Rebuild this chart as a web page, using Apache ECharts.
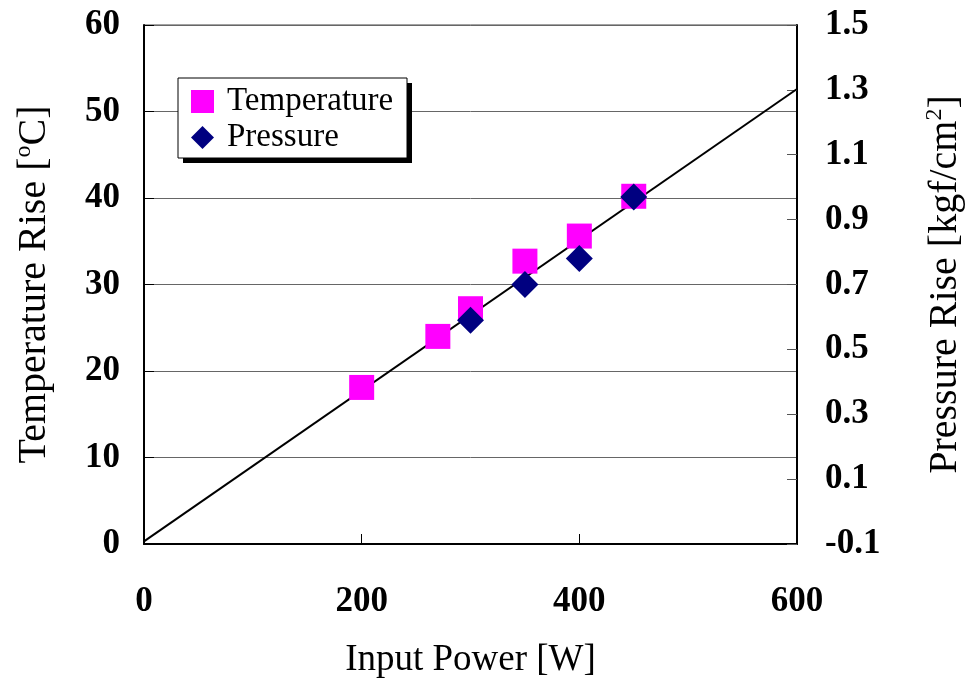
<!DOCTYPE html>
<html>
<head>
<meta charset="utf-8">
<script src="https://cdn.jsdelivr.net/npm/echarts@6/dist/echarts.min.js"></script>
<style>html,body{margin:0;padding:0;background:#fff;}#c{width:967px;height:687px;}</style>
</head>
<body>
<div id="c"></div>
<script>
// Data
const tempPower = [200, 270, 300, 350, 400, 450];
const tempRise = [18.1, 24.0, 27.2, 32.7, 35.6, 40.2];
const pressPower = [300, 350, 400, 450];
const pressRise = [0.59, 0.70, 0.78, 0.97];
const fitPower = [0, 600];
const fitTemp = [0.3, 52.6];
const xTicks = [0, 200, 400, 600];
const leftTicks = [0, 10, 20, 30, 40, 50, 60];
const rightTicks = [-0.1, 0.1, 0.3, 0.5, 0.7, 0.9, 1.1, 1.3, 1.5];

const FONT = '"Liberation Serif", "Times New Roman", serif';
const chart = echarts.init(document.getElementById('c'));
const zip = (a, b) => a.map((v, i) => [v, b[i]]);
const supRich = {
  s: { fontFamily: FONT, fontSize: 24, lineHeight: 24, color: '#000', verticalAlign: 'top' }
};

chart.setOption({
  animation: false,
  backgroundColor: '#fff',
  grid: { left: 144, right: 170, top: 25, bottom: 143, containLabel: false, outerBoundsMode: 'none',
    show: true, borderColor: '#444', borderWidth: 1, backgroundColor: 'transparent' },
  graphic: [
    { type: 'rect', z: 10, shape: { x: 183, y: 83, width: 229, height: 80 }, style: { fill: '#000' } },
    { type: 'rect', z: 11, shape: { x: 178, y: 78, width: 229, height: 80 }, style: { fill: '#fff', stroke: '#000', lineWidth: 1 } }
  ],
  legend: {
    orient: 'vertical', left: 191, top: 85, z: 20,
    padding: 0, itemGap: 3, itemWidth: 23, itemHeight: 23,
    textStyle: { fontFamily: FONT, fontSize: 33, color: '#000', padding: [0, 0, 0, 8] },
    data: ['Temperature', 'Pressure']
  },
  xAxis: {
    type: 'value', min: xTicks[0], max: xTicks[xTicks.length - 1], interval: 200,
    name: 'Input Power [W]', nameLocation: 'middle', nameGap: 98,
    nameTextStyle: { fontFamily: FONT, fontSize: 37, color: '#000' },
    axisLine: { lineStyle: { color: '#000', width: 2 } },
    axisTick: { inside: true, length: 10, lineStyle: { color: '#000' } },
    axisLabel: { margin: 40, fontFamily: FONT, fontSize: 35, fontWeight: 'bold', color: '#000' },
    splitLine: { show: false }
  },
  yAxis: [{
    type: 'value', min: leftTicks[0], max: leftTicks[leftTicks.length - 1], interval: 10,
    name: 'Temperature Rise [{s|o}C]', nameLocation: 'middle', nameGap: 88,
    nameTextStyle: { fontFamily: FONT, fontSize: 40, lineHeight: 44, color: '#000', rich: supRich },
    axisLine: { lineStyle: { color: '#000', width: 2 } },
    axisTick: { inside: true, length: 10, lineStyle: { color: '#000' } },
    axisLabel: { margin: 24, fontFamily: FONT, fontSize: 35, fontWeight: 'bold', color: '#000' },
    splitLine: { show: true, lineStyle: { color: '#666', width: 1 } }
  }, {
    type: 'value', position: 'right', min: rightTicks[0], max: rightTicks[rightTicks.length - 1], interval: 0.2,
    name: 'Pressure Rise [kgf/cm{s|2}]', nameLocation: 'middle', nameGap: 126,
    nameTextStyle: { fontFamily: FONT, fontSize: 40, lineHeight: 44, color: '#000', rich: supRich },
    axisLine: { show: true, lineStyle: { color: '#000', width: 2 } },
    axisTick: { inside: true, length: 10, lineStyle: { color: '#555' } },
    axisLabel: { margin: 28, fontFamily: FONT, fontSize: 35, fontWeight: 'bold', color: '#000',
      formatter: v => v.toFixed(1) },
    splitLine: { show: false }
  }],
  series: [{
    type: 'line', name: 'fit', data: zip(fitPower, fitTemp), showSymbol: false, symbol: 'none',
    lineStyle: { color: '#000', width: 2 }, z: 1, silent: true
  }, {
    type: 'scatter', name: 'Temperature', data: zip(tempPower, tempRise), symbol: 'rect', symbolSize: 25,
    itemStyle: { color: '#FF00FF', opacity: 1 }, z: 2
  }, {
    type: 'scatter', name: 'Pressure', yAxisIndex: 1, data: zip(pressPower, pressRise), symbol: 'diamond', symbolSize: 27,
    itemStyle: { color: '#000080', opacity: 1 }, z: 3
  }]
});
</script>
</body>
</html>
